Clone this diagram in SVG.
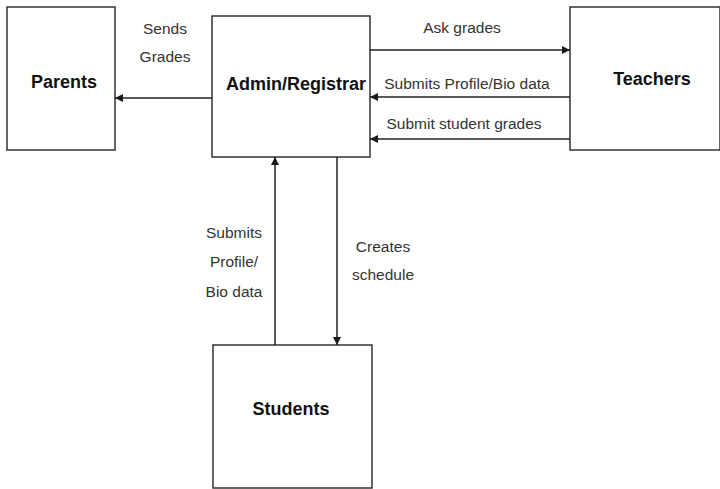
<svg xmlns="http://www.w3.org/2000/svg" width="720" height="489" viewBox="0 0 720 489">
<defs>
<marker id="arr" viewBox="0 0 10 10" refX="10" refY="5" markerWidth="8" markerHeight="8" markerUnits="userSpaceOnUse" orient="auto">
<path d="M0,0 L10,5 L0,10 z" fill="#1a1a1a"/>
</marker>
<style>
.box{fill:#fff;stroke:#333;stroke-width:1.5}
.title{font-family:"Liberation Sans",Arial,sans-serif;font-weight:bold;font-size:18px;fill:#111;text-anchor:middle}
.lbl{font-family:"Liberation Sans",Arial,sans-serif;font-size:15.5px;fill:#333;text-anchor:middle}
.edge{stroke:#222;stroke-width:1.5;fill:none;marker-end:url(#arr)}
</style>
</defs>
<rect width="720" height="489" fill="#fff"/>
<g id="parents">
<rect class="box" x="7" y="7" width="108" height="143"/>
<text class="title" x="64" y="88">Parents</text>
</g>
<g id="admin">
<rect class="box" x="212" y="16" width="158" height="141"/>
<text class="title" x="296" y="90">Admin/Registrar</text>
</g>
<g id="teachers">
<rect class="box" x="570" y="7" width="150" height="143"/>
<text class="title" x="652" y="85">Teachers</text>
</g>
<g id="students">
<rect class="box" x="213" y="345" width="159" height="143"/>
<text class="title" x="291" y="415">Students</text>
</g>
<g id="connectors">
<line class="edge" x1="212" y1="98" x2="115" y2="98"/>
<line class="edge" x1="370" y1="50" x2="570" y2="50"/>
<line class="edge" x1="570" y1="97" x2="370" y2="97"/>
<line class="edge" x1="570" y1="139" x2="370" y2="139"/>
<line class="edge" x1="275" y1="345" x2="275" y2="157"/>
<line class="edge" x1="337" y1="157" x2="337" y2="345"/>
<text class="lbl" x="165" y="34">Sends</text>
<text class="lbl" x="165" y="62">Grades</text>
<text class="lbl" x="462" y="33">Ask grades</text>
<text class="lbl" x="467" y="89">Submits Profile/Bio data</text>
<text class="lbl" x="464" y="129">Submit student grades</text>
<text class="lbl" x="234" y="238">Submits</text>
<text class="lbl" x="234" y="267">Profile/</text>
<text class="lbl" x="234" y="297">Bio data</text>
<text class="lbl" x="383" y="252">Creates</text>
<text class="lbl" x="383" y="280">schedule</text>
</g>
</svg>
